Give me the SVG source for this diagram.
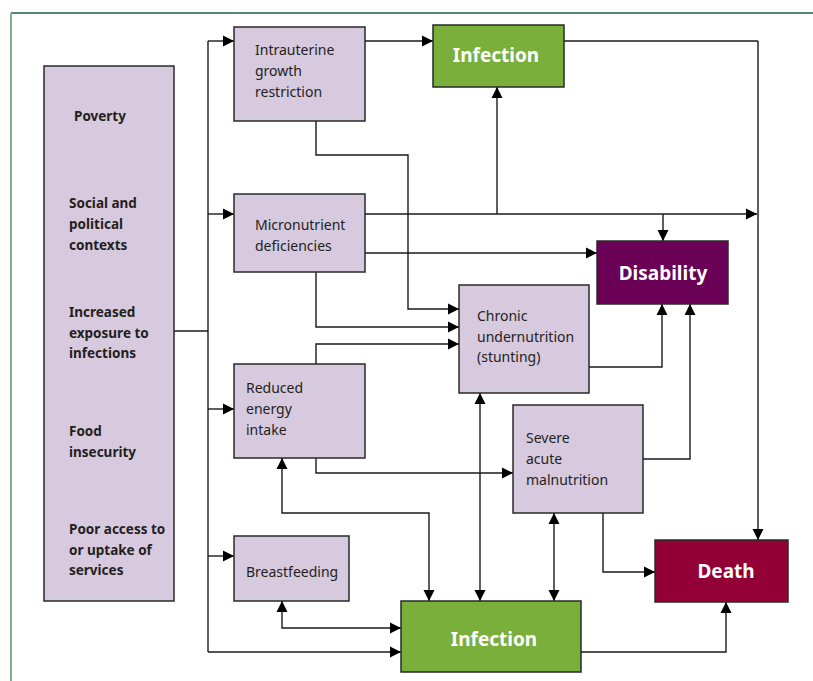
<svg xmlns="http://www.w3.org/2000/svg" width="813" height="681" viewBox="0 0 813 681">
<defs>
<marker id="ah" markerUnits="userSpaceOnUse" markerWidth="12" markerHeight="12" refX="11" refY="6" orient="auto-start-reverse" viewBox="0 0 12 12">
<path d="M0,0.5 L11,6 L0,11.5 Z" fill="#000"/>
</marker>
<style>
.box{fill:#d7c9de;stroke:#2a2a2a;stroke-width:1.5}
.t{font-family:"Noto Sans","Open Sans","Liberation Sans",sans-serif;font-size:14px;fill:#231f20}
.lb{font-family:"Noto Sans","Open Sans","Liberation Sans",sans-serif;font-size:13.5px;font-weight:bold;fill:#231f20}
.big{font-family:"Noto Sans","Open Sans","Liberation Sans",sans-serif;font-size:19px;font-weight:bold;fill:#fff;text-anchor:middle}
.c{fill:none;stroke:#1a1a1a;stroke-width:1.4}
.a{marker-end:url(#ah)}
.d{marker-start:url(#ah);marker-end:url(#ah)}
</style>
</defs>
<rect width="813" height="681" fill="#fff"/>
<line x1="11" y1="13" x2="813" y2="13" stroke="#1f5f3f" stroke-width="1.3"/>
<line x1="11" y1="13" x2="11" y2="681" stroke="#7fb08f" stroke-width="2"/>

<g id="connectors">
<path class="c" d="M174,331 H208"/>
<path class="c" d="M208,41 V652"/>
<path class="c a" d="M208,41 H234"/>
<path class="c a" d="M208,214 H234"/>
<path class="c a" d="M208,409 H234"/>
<path class="c a" d="M208,556 H234"/>
<path class="c a" d="M208,652 H401"/>
<path class="c a" d="M365,41 H433"/>
<path class="c" d="M564,41 H758"/>
<path class="c a" d="M758,41 V540"/>
<path class="c a" d="M365,214 H757"/>
<path class="c a" d="M497,214 V87"/>
<path class="c a" d="M663,214 V241"/>
<path class="c a" d="M365,253 H597"/>
<path class="c a" d="M316,121 V155 H408 V309 H459"/>
<path class="c a" d="M316,272 V327 H459"/>
<path class="c a" d="M316,364 V344 H459"/>
<path class="c a" d="M589,367 H662 V304"/>
<path class="c a" d="M643,459 H690 V304"/>
<path class="c a" d="M316,458 V473 H513"/>
<path class="c d" d="M480,393 V601"/>
<path class="c d" d="M282,458 V513 H429 V601"/>
<path class="c d" d="M554,513 V601"/>
<path class="c d" d="M282,601 V628 H401"/>
<path class="c a" d="M581,652 H726 V602"/>
<path class="c a" d="M603,513 V572 H655"/>
</g>

<g id="determinants">
<rect class="box" x="44" y="66" width="130" height="535"/>
<text class="lb" x="74" y="121">Poverty</text>
<text class="lb" x="69" y="208">Social and</text>
<text class="lb" x="69" y="229">political</text>
<text class="lb" x="69" y="250">contexts</text>
<text class="lb" x="69" y="317">Increased</text>
<text class="lb" x="69" y="338">exposure to</text>
<text class="lb" x="69" y="358">infections</text>
<text class="lb" x="69" y="436">Food</text>
<text class="lb" x="69" y="457">insecurity</text>
<text class="lb" x="69" y="534">Poor access to</text>
<text class="lb" x="69" y="555">or uptake of</text>
<text class="lb" x="69" y="575">services</text>
</g>

<g id="iugr">
<rect class="box" x="234" y="27" width="131" height="94"/>
<text class="t" x="255" y="55">Intrauterine</text>
<text class="t" x="255" y="76">growth</text>
<text class="t" x="255" y="97">restriction</text>
</g>

<g id="infection-top">
<rect x="433" y="25" width="131" height="62" fill="#7aaf3c" stroke="#2a2a2a" stroke-width="1.5"/>
<text class="big" x="496" y="62">Infection</text>
</g>

<g id="micronutrient">
<rect class="box" x="234" y="194" width="131" height="78"/>
<text class="t" x="255" y="230">Micronutrient</text>
<text class="t" x="255" y="251">deficiencies</text>
</g>

<g id="disability">
<rect x="597" y="241" width="131" height="63" fill="#6b0057" stroke="#2a2a2a" stroke-width="1.5"/>
<text class="big" x="663" y="280">Disability</text>
</g>

<g id="chronic">
<rect class="box" x="459" y="285" width="130" height="108"/>
<text class="t" x="477" y="321">Chronic</text>
<text class="t" x="477" y="342">undernutrition</text>
<text class="t" x="477" y="362">(stunting)</text>
</g>

<g id="reduced-energy">
<rect class="box" x="234" y="364" width="131" height="94"/>
<text class="t" x="246" y="393">Reduced</text>
<text class="t" x="246" y="414">energy</text>
<text class="t" x="246" y="435">intake</text>
</g>

<g id="severe-acute">
<rect class="box" x="513" y="405" width="130" height="108"/>
<text class="t" x="526" y="443">Severe</text>
<text class="t" x="526" y="464">acute</text>
<text class="t" x="526" y="485">malnutrition</text>
</g>

<g id="breastfeeding">
<rect class="box" x="234" y="536" width="115" height="65"/>
<text class="t" x="246" y="577">Breastfeeding</text>
</g>

<g id="infection-bottom">
<rect x="401" y="601" width="180" height="71" fill="#7aaf3c" stroke="#2a2a2a" stroke-width="1.5"/>
<text class="big" x="494" y="646">Infection</text>
</g>

<g id="death">
<rect x="655" y="540" width="133" height="62" fill="#930035" stroke="#2a2a2a" stroke-width="1.5"/>
<text class="big" x="726" y="578">Death</text>
</g>
</svg>
